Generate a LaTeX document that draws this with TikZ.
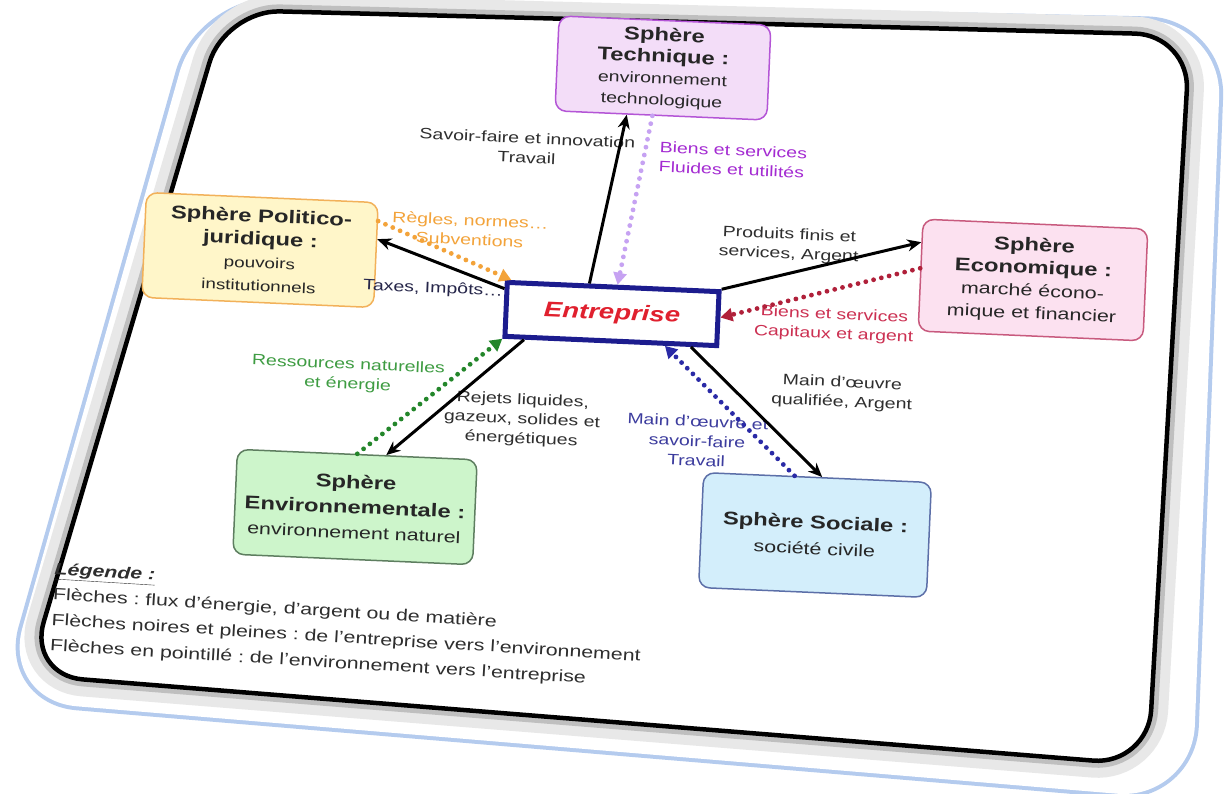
\documentclass[tikz,border=0pt]{standalone}
\usepackage{fontspec}
\setmainfont{Liberation Sans}[FakeStretch=1.3]
\usetikzlibrary{arrows.meta,calc}
\frenchspacing

% sphere colours
\definecolor{techfill}{HTML}{F3DDF8}
\definecolor{techdraw}{HTML}{B455D6}
\definecolor{polfill}{HTML}{FFF6C9}
\definecolor{poldraw}{HTML}{F2B15A}
\definecolor{ecofill}{HTML}{FCE1F0}
\definecolor{ecodraw}{HTML}{C85A7E}
\definecolor{envfill}{HTML}{CDF5CB}
\definecolor{envdraw}{HTML}{5E7E60}
\definecolor{socfill}{HTML}{D3EEFB}
\definecolor{socdraw}{HTML}{5C6FA8}
\definecolor{entdraw}{HTML}{1C1C8E}
\definecolor{entred}{HTML}{E0202E}
% flow colours
\definecolor{lavender}{HTML}{C6A2F2}
\definecolor{purpletxt}{HTML}{A42BD2}
\definecolor{orangearr}{HTML}{F3A33A}
\definecolor{redarr}{HTML}{B0203A}
\definecolor{redtxt}{HTML}{CC3052}
\definecolor{navyarr}{HTML}{2A2AA6}
\definecolor{navytxt}{HTML}{3C3C9E}
\definecolor{greenarr}{HTML}{23862A}
\definecolor{greentxt}{HTML}{3E9C42}
\definecolor{labeltxt}{HTML}{2E2E2E}
\definecolor{taxtxt}{HTML}{26264A}
\definecolor{glow}{HTML}{B4CBEE}

\newcommand\sptitle[1]{{\fontsize{18.3}{21}\selectfont\bfseries #1}}

\begin{document}
\begin{tikzpicture}[x=1pt,y=-1pt,
  sphere/.style={draw, rounded corners=11pt, line width=1.5pt, align=center,
    rotate=-2.5, inner sep=3pt, text=black!85},
  lab/.style={align=center, rotate=-2.5, inner sep=1pt, font=\fontsize{15}{19.5}\selectfont},
  flow/.style={draw=black, line width=3pt, -{Stealth[length=14pt,width=12pt]}},
  back/.style={line width=4.8pt, line cap=round, dash pattern=on 0pt off 8pt,
    -{Triangle[length=12pt,width=13pt]}}]

\useasboundingbox (0,0) rectangle (1227,793);
\fill[white] (0,0) rectangle (1227,793);

% outer rim of the frame
\draw[glow, line width=8pt, rounded corners=75pt]
  (200,0) -- (1222,22) -- (1192,800) -- (2,700) -- cycle;
\fill[white, rounded corners=75pt]
  (200,0) -- (1222,22) -- (1192,800) -- (2,700) -- cycle;
% silver bevel and black inner border
\draw[gray!18, line width=34pt, rounded corners=55pt]
  (225,10) -- (1190,35) -- (1148,765) -- (28,675) -- cycle;
\draw[gray!50, line width=14pt, rounded corners=55pt]
  (225,10) -- (1190,35) -- (1148,765) -- (28,675) -- cycle;
\fill[white, rounded corners=55pt]
  (225,10) -- (1190,35) -- (1148,765) -- (28,675) -- cycle;
\draw[black, line width=4.5pt, rounded corners=55pt]
  (225,10) -- (1190,35) -- (1148,765) -- (28,675) -- cycle;

% spheres
\node[sphere, fill=techfill, draw=techdraw, minimum width=212pt, minimum height=95pt,
  font=\fontsize{15}{21.5}\selectfont]
  (tech) at (663,68) {\sptitle{Sphère}\\\sptitle{Technique :}\\environnement\\technologique};
\node[sphere, fill=polfill, draw=poldraw, minimum width=232pt, minimum height=105pt,
  font=\fontsize{14.5}{23}\selectfont]
  (pol) at (260,250) {\sptitle{Sphère Politico-}\\\sptitle{juridique :}\\pouvoirs\\institutionnels};
\node[sphere, fill=ecofill, draw=ecodraw, minimum width=225pt, minimum height=112pt,
  font=\fontsize{16.5}{22.5}\selectfont]
  (eco) at (1033,280) {\sptitle{Sphère}\\\sptitle{Economique :}\\marché écono-\\mique et financier};
\node[sphere, fill=envfill, draw=envdraw, minimum width=240pt, minimum height=105pt,
  font=\fontsize{16.5}{25}\selectfont]
  (env) at (355,507) {\sptitle{Sphère}\\\sptitle{Environnementale :}\\environnement naturel};
\node[sphere, fill=socfill, draw=socdraw, minimum width=228pt, minimum height=115pt,
  font=\fontsize{16.5}{26}\selectfont]
  (soc) at (815,535) {\sptitle{Sphère Sociale :}\\société civile};
\node[draw=entdraw, line width=5pt, fill=white, rotate=-2.5,
  minimum width=212pt, minimum height=54pt]
  (ent) at (612,314) {\fontsize{21.2}{24}\selectfont\bfseries\itshape\color{entred}Entreprise};

% flow labels
\node[lab, text=labeltxt] (lsavoir) at (527,148) {Savoir-faire et innovation\\Travail};
\node[lab, text=purpletxt, align=left] (lbiens) at (733,160) {Biens et services\\Fluides et utilités};
\node[lab, text=orangearr] (lregles) at (470,230) {Règles, normes…\\Subventions};
\node[lab, text=taxtxt] (ltaxes) at (433,289) {Taxes, Impôts…};
\node[lab, text=labeltxt] (lproduits) at (789,245) {Produits finis et\\services, Argent};
\node[lab, text=redtxt] (lcapitaux) at (834,325) {Biens et services\\Capitaux et argent};
\node[lab, text=labeltxt] (lmain) at (842,393) {Main d’œuvre\\qualifiée, Argent};
\node[lab, text=navytxt] (lsavfaire) at (697,441) {Main d’œuvre et\\savoir-faire\\Travail};
\node[lab, text=labeltxt] (lrejets) at (522,420) {Rejets liquides,\\gazeux, solides et\\énergétiques};
\node[lab, text=greentxt] (lressources) at (348,375) {Ressources naturelles\\et énergie};

% flows from the firm (solid) and towards it (dotted)
\draw[flow] ($(ent.north west)!0.39!(ent.north east)$) -- ($(tech.south west)!0.34!(tech.south east)$);
\draw[back, lavender] ($(tech.south west)!0.46!(tech.south east)$) -- ($(ent.north west)!0.52!(ent.north east)$);

\draw[flow] ($(ent.north west)!0.15!(ent.south west)$) -- ($(pol.north east)!0.35!(pol.south east)$);
\draw[back, orangearr] ($(pol.north east)!0.18!(pol.south east)$) -- ($(ent.north west)!0.03!(ent.north east)$);

\draw[flow] (ent.north east) -- ($(eco.north west)!0.21!(eco.south west)$);
\draw[back, redarr] ($(eco.north west)!0.44!(eco.south west)$) -- ($(ent.north east)!0.48!(ent.south east)$);

\draw[flow] ($(ent.south west)!0.87!(ent.south east)$) -- ($(soc.north west)!0.52!(soc.north east)$);
\draw[back, navyarr] ($(soc.north west)!0.40!(soc.north east)$) -- ($(ent.south west)!0.75!(ent.south east)$);

\draw[flow] ($(ent.south west)!0.10!(ent.south east)$) -- ($(env.north west)!0.62!(env.north east)$);
\draw[back, greenarr] ($(env.north west)!0.50!(env.north east)$) -- (ent.south west);

% legend
\node[anchor=north west, align=left, rotate=-3.5, inner sep=0pt, text=labeltxt,
  font=\fontsize{16.4}{25.5}\selectfont]
  (legend) at (55,562) {\textbf{\textit{\underline{Légende :}}}\\Flèches : flux d’énergie, d’argent ou de matière\\Flèches noires et pleines : de l’entreprise vers l’environnement\\Flèches en pointillé : de l’environnement vers l’entreprise};

\end{tikzpicture}
\end{document}
